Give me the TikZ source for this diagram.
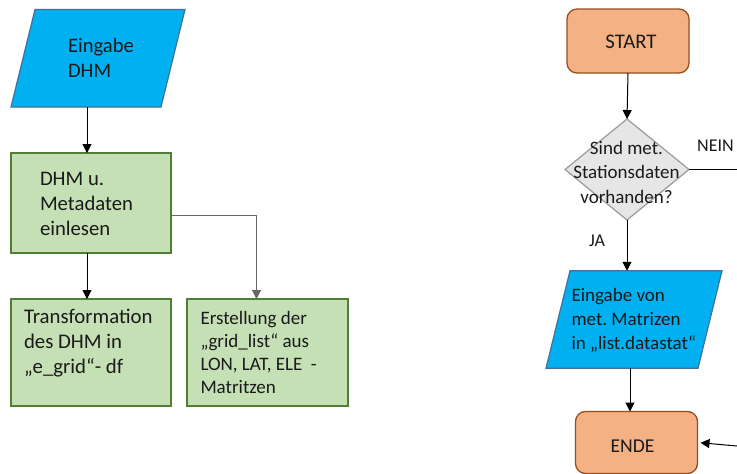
\documentclass[tikz,border=0pt]{standalone}
\usepackage{fontspec}
\setmainfont{Carlito}
\usetikzlibrary{shapes.geometric,arrows.meta,calc}
\definecolor{pblue}{HTML}{00B0F0}
\definecolor{pblueb}{HTML}{41719C}
\definecolor{pgreen}{HTML}{C5E0B4}
\definecolor{pgreenb}{HTML}{507E32}
\definecolor{porange}{HTML}{F4B183}
\definecolor{porangeb}{HTML}{974E1E}
\definecolor{pgray}{HTML}{E7E6E6}
\definecolor{pgrayb}{HTML}{9A9A9A}
\definecolor{ptext}{HTML}{1A1A1A}
\frenchspacing
\tikzset{
  parabox/.style={rectangle, inner sep=0pt, outer sep=0pt,
    minimum height=97.5pt},
  parafill/.style={draw=pblueb, fill=pblue, line width=1.2pt},
  gbox/.style={rectangle, draw=pgreenb, fill=pgreen, line width=1.3pt,
    inner sep=0pt, outer sep=0pt},
  obox/.style={rectangle, rounded corners=10pt, draw=porangeb, fill=porange,
    line width=1.3pt, inner sep=0pt, outer sep=0pt, minimum width=122pt},
  dbox/.style={diamond, draw=pgrayb, fill=pgray, line width=1.2pt,
    inner sep=0pt, outer sep=0pt, minimum width=124pt, minimum height=101pt},
  lbl/.style={inner sep=0pt, outer sep=0pt, align=left, text=ptext},
  clbl/.style={lbl, align=center},
  arr/.style={draw=black, line width=1pt, -{Triangle[width=9pt,length=9pt]}},
  ln/.style={draw=black, line width=1pt},
}
\newcommand{\fsz}[2]{\fontsize{#1}{#2}\selectfont}
\begin{document}
\begin{tikzpicture}[x=1pt,y=-1pt]
\path[use as bounding box, fill=white] (0,0) rectangle (737,474);

% left flow
\node[parabox, minimum width=150pt] (in1) at (98,58.3) {};
\draw[parafill] ([xshift=12pt]in1.north west) -- ([xshift=12pt]in1.north east)
  -- ([xshift=-12pt]in1.south east) -- ([xshift=-12pt]in1.south west) -- cycle;
\node[lbl, anchor=west, font=\fsz{20.6}{24.5}] (tin1) at (68,58) {Eingabe\\DHM};

\node[gbox, minimum width=160pt, minimum height=100pt] (b1) at (91,203) {};
\node[lbl, anchor=west, font=\fsz{20.7}{25}] (tb1) at (40,203.5) {DHM u.\\Metadaten\\einlesen};

\node[gbox, minimum width=160pt, minimum height=107pt] (b2) at (91,352.5) {};
\node[lbl, anchor=west, font=\fsz{20.8}{25}] (tb2) at (24,343.5) {Transformation\\des DHM in\\„e\_grid“- df};

\node[gbox, minimum width=161pt, minimum height=107pt] (b3) at (267.5,352.5) {};
\node[lbl, anchor=west, font=\fsz{19}{23}] (tb3) at (200.5,352) {Erstellung der\\„grid\_list“ aus\\LON, LAT, ELE~~-\\Matritzen};

\draw[arr] ([xshift=-11pt]in1.south) -- ([xshift=-11pt]in1.south |- b1.north);
\draw[arr] ([xshift=-4pt]b1.south) -- ([xshift=-4pt]b2.north);
\draw[arr, draw=black!60] ([yshift=-12pt]b1.east) -| ([xshift=-11pt]b3.north);

% right flow
\node[obox, minimum height=64pt] (st) at (628,41) {};
\node[clbl, font=\fsz{20.8}{25}] (tst) at (631,42) {START};

\node[dbox] (dia) at (627,169.5) {};
\node[clbl, font=\fsz{19}{24.5}] (tdia) at (626.5,172) {Sind met.\\Stationsdaten\\vorhanden?};

\node[parabox, minimum width=152pt] (p2) at (634,319.5) {};
\draw[parafill] ([xshift=12pt]p2.north west) -- ([xshift=12pt]p2.north east)
  -- ([xshift=-12pt]p2.south east) -- ([xshift=-12pt]p2.south west) -- cycle;
\node[lbl, anchor=west, font=\fsz{19}{24}] (tp2) at (571.5,320) {Eingabe von\\met. Matrizen\\in „list.datastat“};

\node[obox, minimum height=62pt] (en) at (636.5,442.5) {};
\node[clbl, font=\fsz{19.6}{24}] (ten) at (632.5,446.5) {ENDE};

\node[lbl, font=\fsz{18}{22}] (nein) at (715.5,145.5) {NEIN};
\node[lbl, font=\fsz{18}{22}] (ja) at (597,240.5) {JA};

\coordinate (neinend) at (737,169.5);
\coordinate (endein) at (737,446);

\draw[arr] (st.south) -- (dia.north);
\draw[ln] (dia.east) -- (neinend);
\draw[arr] (dia.south) -- (dia.south |- p2.north);
\draw[arr] ([xshift=-4pt]p2.south) -- ([xshift=-4pt]p2.south |- en.north);
\draw[arr, shorten >=3pt] (endein) -- (en.east);
\end{tikzpicture}
\end{document}
